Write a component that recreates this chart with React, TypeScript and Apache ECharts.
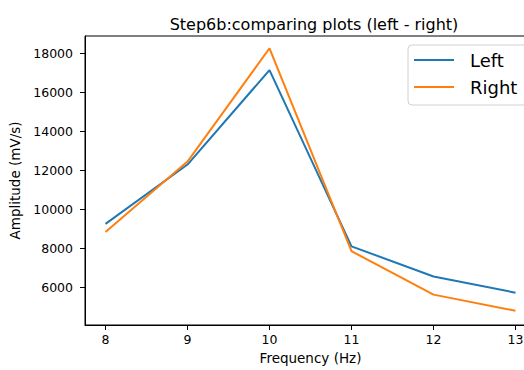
import React, { useEffect, useRef } from "react";
import * as echarts from "echarts";

const frequencies = [8, 9, 10, 11, 12, 13];
const leftValues = [9250, 12300, 17150, 8100, 6550, 5720];
const rightValues = [8830, 12450, 18270, 7850, 5620, 4790];
const xTicks = [8, 9, 10, 11, 12, 13];
const yTicks = [6000, 8000, 10000, 12000, 14000, 16000, 18000];

const FONT = "DejaVu Sans";

export default function App() {
  const ref = useRef<HTMLDivElement>(null);
  useEffect(() => {
    if (!ref.current) return;
    document.body.style.overflow = "hidden";
    document.documentElement.style.overflow = "hidden";
    const chart = echarts.init(ref.current, undefined, { renderer: "svg" });
    const pairs = (vals: number[]) => frequencies.map((f, i) => [f, vals[i]]);
    chart.setOption({
      animation: false,
      backgroundColor: "#ffffff",
      textStyle: { fontFamily: FONT },
      title: {
        text: "Step6b:comparing plots (left - right)",
        left: 309,
        top: 11,
        textAlign: "center",
        textStyle: { fontFamily: FONT, fontSize: 16, fontWeight: "normal", color: "#000" },
      },
      legend: {
        orient: "vertical",
        left: 408,
        top: 45,
        icon: "rect",
        itemWidth: 40,
        itemHeight: 2,
        itemGap: 7,
        padding: [5, 30, 8, 6],
        borderColor: "#d0d0d0",
        borderWidth: 1,
        borderRadius: 4,
        backgroundColor: "#ffffff",
        textStyle: { fontFamily: FONT, fontSize: 18, color: "#000", lineHeight: 20, padding: [0, 0, 0, 11] },
        data: ["Left", "Right"],
      },
      grid: {
        left: 85,
        top: 36,
        bottom: 42,
        right: 0,
        show: true,
        borderColor: "#000",
        borderWidth: 1,
        backgroundColor: "transparent",
      },
      xAxis: {
        type: "value",
        min: 7.75,
        max: 13.25,
        name: "Frequency (Hz)",
        nameLocation: "middle",
        nameGap: 26,
        nameTextStyle: { fontFamily: FONT, fontSize: 13.5, color: "#000" },
        axisLine: { show: true, lineStyle: { color: "#000", width: 1 } },
        axisTick: { show: true, length: 5, inside: false, lineStyle: { color: "#000" }, customValues: xTicks },
        axisLabel: { fontFamily: FONT, fontSize: 12.5, color: "#000", margin: 8, customValues: xTicks },
        splitLine: { show: false },
      },
      yAxis: {
        type: "value",
        min: 4060,
        max: 18900,
        name: "Amplitude (mV/s)",
        nameLocation: "middle",
        nameRotate: 90,
        nameGap: 60,
        nameTextStyle: { fontFamily: FONT, fontSize: 13.5, color: "#000" },
        axisLine: { show: true, lineStyle: { color: "#000", width: 1 } },
        axisTick: { show: true, length: 5, inside: false, lineStyle: { color: "#000" }, customValues: yTicks },
        axisLabel: {
          fontFamily: FONT,
          fontSize: 12.5,
          color: "#000",
          margin: 12,
          customValues: yTicks,
          formatter: (v: number) => String(Math.round(v)),
        },
        splitLine: { show: false },
      },
      series: [
        {
          name: "Left",
          type: "line",
          data: pairs(leftValues),
          showSymbol: false,
          symbol: "none",
          lineStyle: { color: "#1f77b4", width: 2 },
          itemStyle: { color: "#1f77b4" },
        },
        {
          name: "Right",
          type: "line",
          data: pairs(rightValues),
          showSymbol: false,
          symbol: "none",
          lineStyle: { color: "#ff7f0e", width: 2 },
          itemStyle: { color: "#ff7f0e" },
        },
      ],
    });
    return () => chart.dispose();
  }, []);
  return (
    <div style={{ position: "absolute", left: 0, top: 0, width: 524, height: 370, overflow: "hidden" }}>
      <div ref={ref} style={{ width: 536, height: 370 }} />
    </div>
  );
}
